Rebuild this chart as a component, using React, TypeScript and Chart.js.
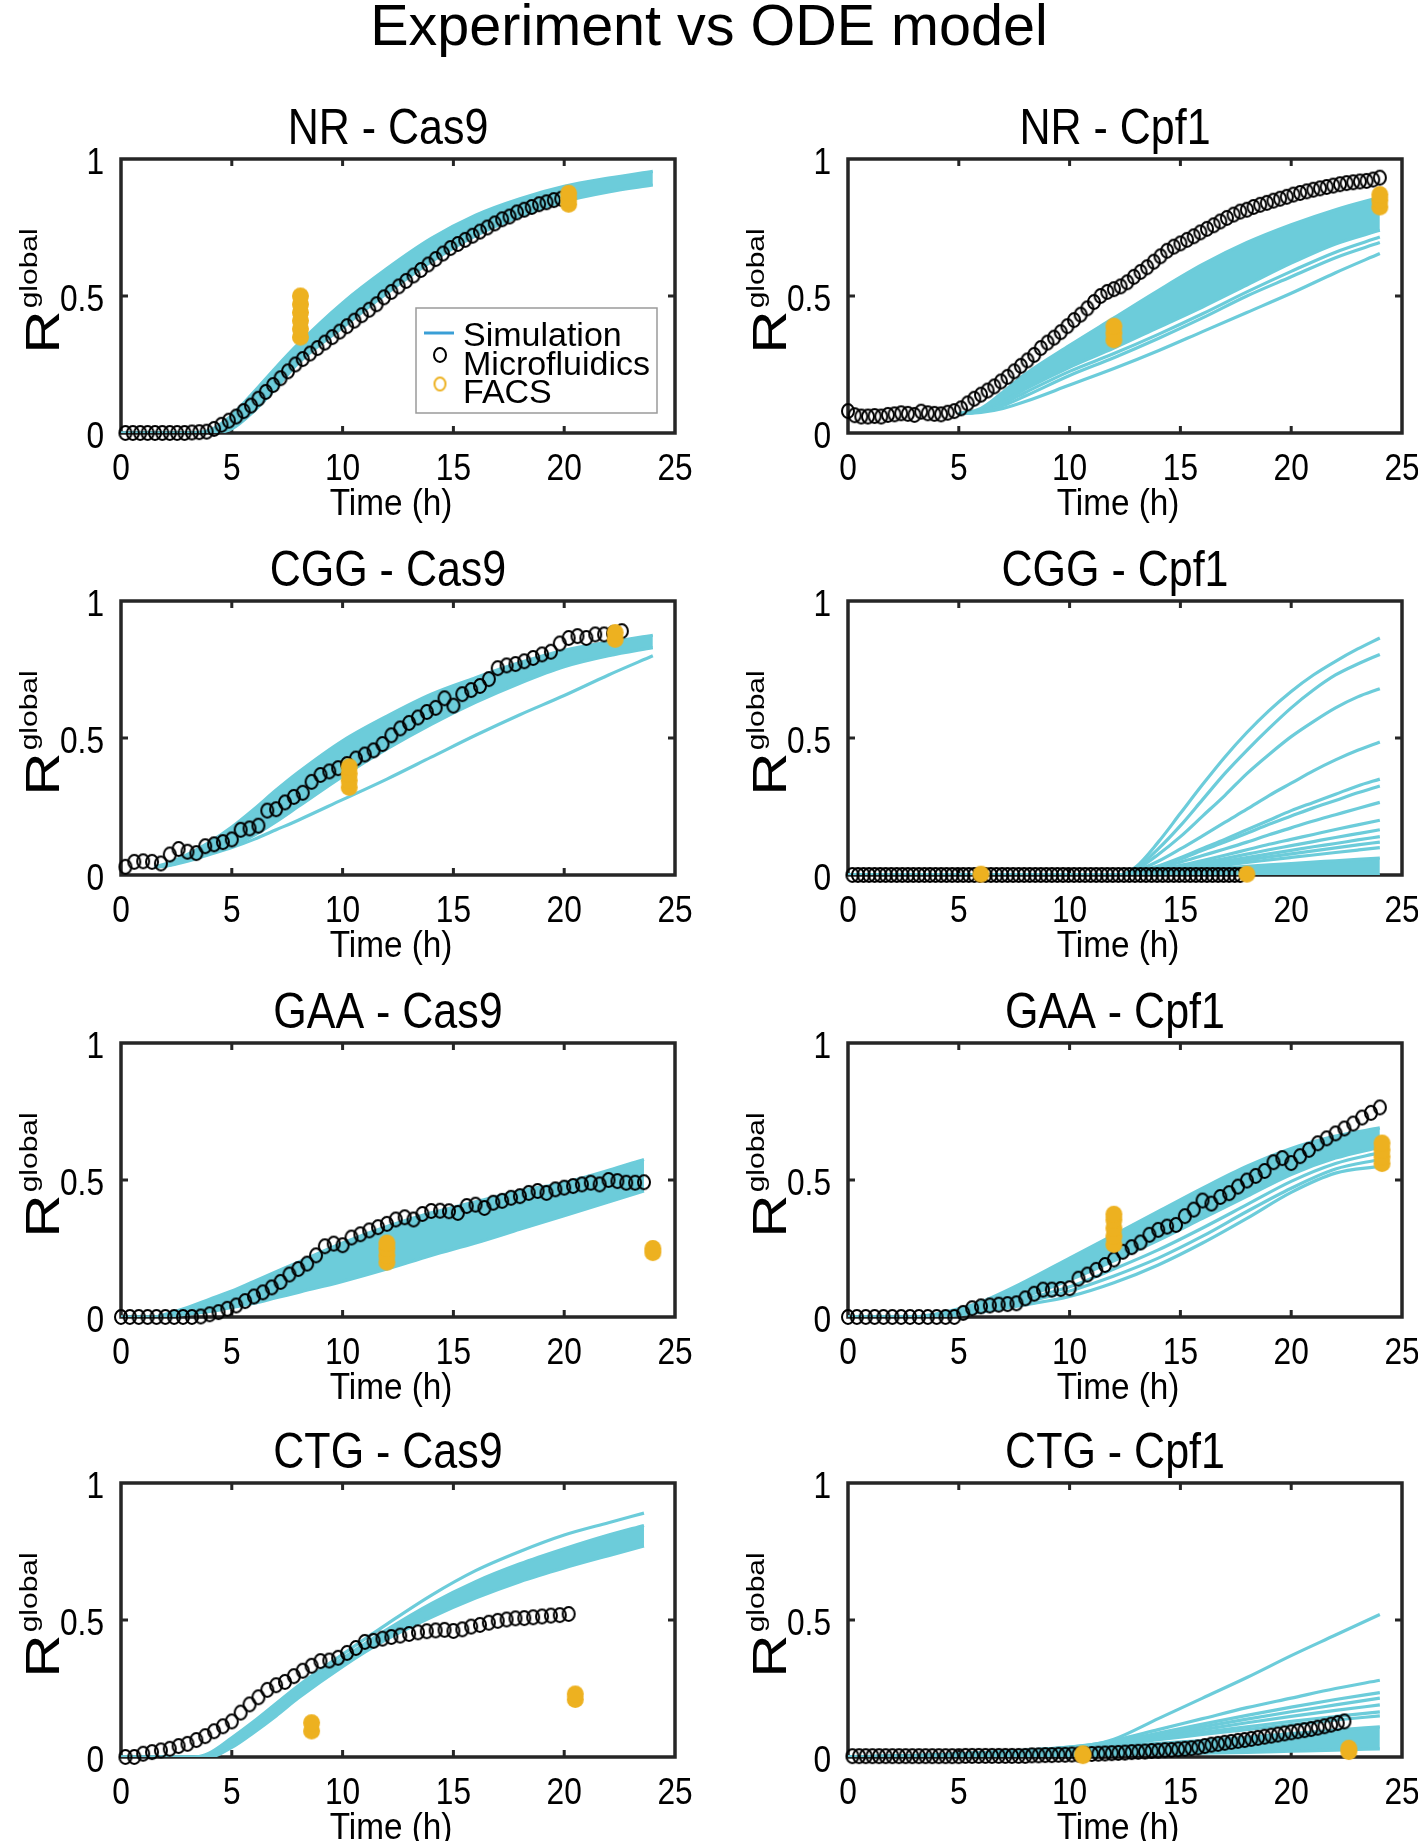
import React, { useEffect, useRef } from 'react';
import { Chart, registerables } from 'chart.js';

Chart.register(...registerables);

// ---------------- text ----------------
const MAIN_TITLE = 'Experiment vs ODE model';
const PANEL_TITLES = ['NR - Cas9', 'NR - Cpf1', 'CGG - Cas9', 'CGG - Cpf1', 'GAA - Cas9', 'GAA - Cpf1', 'CTG - Cas9', 'CTG - Cpf1'];
const X_TICKS = [0, 5, 10, 15, 20, 25];
const X_TICK_LABELS = ['0', '5', '10', '15', '20', '25'];
const Y_TICKS = [0, 0.5, 1];
const Y_TICK_LABELS = ['0', '0.5', '1'];
const X_LABEL = 'Time (h)';
const Y_LABEL_MAIN = 'R';
const Y_LABEL_SUP = 'global';
const LEGEND_LABELS = ['Simulation', 'Microfluidics', 'FACS'];

// ---------------- NR - Cas9 ----------------
const NR_CAS9_MICRO_T0 = 0.2;
const NR_CAS9_MICRO_DT = 1 / 3;
const NR_CAS9_MICRO = [0, 0, 0, 0, 0, 0, 0, 0, 0, 0.002, 0.003, 0.005, 0.015, 0.03, 0.045, 0.06, 0.08, 0.1, 0.125, 0.15,
  0.175, 0.2, 0.225, 0.25, 0.27, 0.29, 0.31, 0.33, 0.35, 0.37, 0.39, 0.41, 0.43, 0.45, 0.47, 0.495, 0.515, 0.535, 0.555, 0.575,
  0.595, 0.615, 0.635, 0.655, 0.675, 0.69, 0.705, 0.72, 0.735, 0.75, 0.765, 0.78, 0.79, 0.805, 0.815, 0.825, 0.835, 0.842, 0.85, 0.855];
const NR_CAS9_FACS_T = [8.1, 20.2];
const NR_CAS9_FACS = [[0.35, 0.38, 0.41, 0.44, 0.47, 0.5], [0.835, 0.855, 0.875]];
const NR_CAS9_SIM_T = [0, 3, 4, 5, 6, 7, 8, 10, 12, 14, 16, 18, 20, 22, 24];
const NR_CAS9_SIM_LOW = [0, 0, 0, 0.015, 0.08, 0.165, 0.255, 0.385, 0.51, 0.625, 0.72, 0.79, 0.845, 0.88, 0.905];
const NR_CAS9_SIM_HIGH = [0, 0, 0.01, 0.065, 0.15, 0.24, 0.325, 0.475, 0.6, 0.71, 0.795, 0.855, 0.9, 0.93, 0.955];
const NR_CAS9_SIM_LINES: number[][] = [];

// ---------------- NR - Cpf1 ----------------
const NR_CPF1_MICRO_T0 = 0;
const NR_CPF1_MICRO_DT = 0.3;
const NR_CPF1_MICRO = [0.08, 0.065, 0.06, 0.06, 0.062, 0.06, 0.066, 0.068, 0.072, 0.07, 0.066, 0.078, 0.072, 0.07, 0.068, 0.074,
  0.08, 0.09, 0.108, 0.125, 0.14, 0.155, 0.17, 0.188, 0.205, 0.225, 0.245, 0.265, 0.285, 0.31, 0.33, 0.348, 0.368, 0.39, 0.412,
  0.432, 0.455, 0.478, 0.5, 0.515, 0.525, 0.535, 0.55, 0.57, 0.588, 0.605, 0.625, 0.645, 0.665, 0.68, 0.692, 0.705, 0.718, 0.732,
  0.745, 0.758, 0.772, 0.785, 0.797, 0.808, 0.815, 0.825, 0.833, 0.84, 0.848, 0.855, 0.862, 0.87, 0.876, 0.882, 0.888, 0.893,
  0.898, 0.903, 0.908, 0.912, 0.915, 0.918, 0.92, 0.925, 0.932];
const NR_CPF1_FACS_T = [12.0, 24.0];
const NR_CPF1_FACS = [[0.34, 0.365, 0.39], [0.825, 0.85, 0.87]];
const NR_CPF1_SIM_T = [5, 6, 7, 8, 10, 12, 14, 16, 18, 20, 22, 24];
const NR_CPF1_SIM_LOW = [0.07, 0.08, 0.115, 0.16, 0.24, 0.31, 0.385, 0.46, 0.54, 0.62, 0.69, 0.74];
const NR_CPF1_SIM_HIGH = [0.07, 0.09, 0.15, 0.215, 0.32, 0.42, 0.52, 0.615, 0.695, 0.76, 0.815, 0.86];
const NR_CPF1_SIM_LINES = [
  [0.07, 0.075, 0.09, 0.115, 0.175, 0.235, 0.3, 0.37, 0.44, 0.51, 0.585, 0.655],
  [0.07, 0.078, 0.1, 0.135, 0.21, 0.275, 0.345, 0.42, 0.5, 0.57, 0.64, 0.695],
  [0.07, 0.079, 0.108, 0.148, 0.225, 0.29, 0.36, 0.435, 0.515, 0.59, 0.66, 0.715],
];

// ---------------- CGG - Cas9 ----------------
const CGG_CAS9_MICRO_T0 = 0.2;
const CGG_CAS9_MICRO_DT = 0.4;
const CGG_CAS9_MICRO = [0.03, 0.048, 0.05, 0.048, 0.042, 0.075, 0.095, 0.085, 0.08, 0.105, 0.112, 0.12, 0.13, 0.165, 0.17,
  0.18, 0.235, 0.24, 0.265, 0.285, 0.3, 0.34, 0.365, 0.378, 0.39, 0.405, 0.425, 0.44, 0.455, 0.478, 0.51, 0.535, 0.555, 0.575,
  0.595, 0.61, 0.645, 0.618, 0.66, 0.675, 0.69, 0.715, 0.755, 0.765, 0.77, 0.78, 0.792, 0.805, 0.815, 0.845, 0.865, 0.872,
  0.865, 0.878, 0.878, 0.882, 0.89];
const CGG_CAS9_FACS_T = [10.3, 22.3];
const CGG_CAS9_FACS = [[0.32, 0.345, 0.37, 0.395], [0.86, 0.885]];
const CGG_CAS9_SIM_T = [1.5, 2, 3, 4, 5, 6, 7, 8, 10, 12, 14, 16, 18, 20, 22, 24];
const CGG_CAS9_SIM_LOW = [0.03, 0.033, 0.055, 0.08, 0.105, 0.145, 0.195, 0.25, 0.36, 0.46, 0.55, 0.63, 0.7, 0.76, 0.8, 0.83];
const CGG_CAS9_SIM_HIGH = [0.03, 0.04, 0.075, 0.12, 0.175, 0.24, 0.31, 0.375, 0.49, 0.58, 0.66, 0.72, 0.775, 0.82, 0.85, 0.875];
const CGG_CAS9_SIM_LINES = [
  [0.03, 0.032, 0.05, 0.075, 0.1, 0.13, 0.165, 0.2, 0.275, 0.35, 0.43, 0.51, 0.585, 0.655, 0.73, 0.8],
];

// ---------------- CGG - Cpf1 ----------------
const CGG_CPF1_MICRO_T0 = 0.2;
const CGG_CPF1_MICRO_DT = 0.25;
const CGG_CPF1_MICRO = [0, 0, 0, 0, 0, 0, 0, 0, 0, 0, 0, 0, 0, 0, 0, 0, 0, 0, 0, 0, 0, 0, 0, 0, 0, 0, 0, 0, 0, 0, 0, 0, 0, 0, 0,
  0, 0, 0, 0, 0, 0, 0, 0, 0, 0, 0, 0, 0, 0, 0, 0, 0, 0, 0, 0, 0, 0, 0, 0, 0, 0, 0, 0, 0, 0, 0, 0, 0, 0, 0, 0];
const CGG_CPF1_FACS_T = [6.0, 18.0];
const CGG_CPF1_FACS = [[0.003], [0.003]];
const CGG_CPF1_SIM_T = [0, 12.3, 13, 14, 15, 16, 17, 18, 19, 20, 21, 22, 23, 24];
const CGG_CPF1_SIM_LOW = [0, 0, 0, 0, 0, 0, 0, 0, 0, 0, 0, 0, 0, 0];
const CGG_CPF1_SIM_HIGH = [0, 0, 0.003, 0.008, 0.014, 0.02, 0.026, 0.032, 0.037, 0.042, 0.047, 0.052, 0.057, 0.062];
const CGG_CPF1_SIM_LINES = [
  [0, 0, 0.03, 0.12, 0.225, 0.33, 0.43, 0.52, 0.6, 0.67, 0.73, 0.78, 0.825, 0.865],
  [0, 0, 0.024, 0.095, 0.18, 0.275, 0.37, 0.455, 0.535, 0.61, 0.675, 0.73, 0.77, 0.805],
  [0, 0, 0.02, 0.075, 0.14, 0.215, 0.29, 0.37, 0.44, 0.505, 0.56, 0.61, 0.65, 0.68],
  [0, 0, 0.015, 0.05, 0.095, 0.143, 0.192, 0.24, 0.29, 0.335, 0.38, 0.42, 0.455, 0.485],
  [0, 0, 0.01, 0.033, 0.063, 0.097, 0.13, 0.165, 0.2, 0.235, 0.265, 0.295, 0.325, 0.35],
  [0, 0, 0.01, 0.03, 0.058, 0.09, 0.12, 0.152, 0.185, 0.215, 0.245, 0.272, 0.3, 0.325],
  [0, 0, 0.008, 0.025, 0.047, 0.071, 0.095, 0.12, 0.147, 0.172, 0.197, 0.22, 0.243, 0.265],
  [0, 0, 0.006, 0.019, 0.035, 0.053, 0.072, 0.092, 0.112, 0.13, 0.148, 0.166, 0.183, 0.2],
  [0, 0, 0.005, 0.016, 0.03, 0.045, 0.06, 0.076, 0.092, 0.107, 0.122, 0.137, 0.151, 0.165],
  [0, 0, 0.004, 0.013, 0.025, 0.038, 0.05, 0.064, 0.077, 0.09, 0.103, 0.115, 0.128, 0.14],
  [0, 0, 0.004, 0.012, 0.022, 0.033, 0.043, 0.055, 0.066, 0.077, 0.088, 0.099, 0.11, 0.12],
  [0, 0, 0.003, 0.011, 0.019, 0.028, 0.036, 0.046, 0.055, 0.064, 0.073, 0.082, 0.091, 0.1],
];

// ---------------- GAA - Cas9 ----------------
const GAA_CAS9_MICRO_T0 = 0;
const GAA_CAS9_MICRO_DT = 0.4;
const GAA_CAS9_MICRO = [0, 0, 0, 0, 0, 0, 0, 0, 0, 0.002, 0.01, 0.018, 0.03, 0.042, 0.058, 0.075, 0.09, 0.108, 0.128, 0.155,
  0.175, 0.195, 0.225, 0.258, 0.268, 0.262, 0.29, 0.302, 0.316, 0.328, 0.34, 0.356, 0.364, 0.356, 0.376, 0.387, 0.388, 0.386,
  0.38, 0.405, 0.41, 0.398, 0.417, 0.424, 0.435, 0.441, 0.453, 0.46, 0.453, 0.466, 0.472, 0.478, 0.484, 0.49, 0.484, 0.5, 0.496,
  0.49, 0.49, 0.492];
const GAA_CAS9_FACS_T = [12.0, 24.0];
const GAA_CAS9_FACS = [[0.2, 0.225, 0.25, 0.27], [0.235, 0.25]];
const GAA_CAS9_SIM_T = [0, 1.5, 2, 3, 4, 5, 6, 7, 8, 10, 12, 14, 16, 18, 20, 22, 23.6];
const GAA_CAS9_SIM_LOW = [0, 0, 0.003, 0.01, 0.02, 0.035, 0.05, 0.07, 0.09, 0.13, 0.175, 0.225, 0.27, 0.32, 0.37, 0.42, 0.46];
const GAA_CAS9_SIM_HIGH = [0, 0, 0.01, 0.035, 0.065, 0.095, 0.13, 0.165, 0.2, 0.27, 0.33, 0.38, 0.42, 0.46, 0.49, 0.535, 0.575];
const GAA_CAS9_SIM_LINES: number[][] = [];

// ---------------- GAA - Cpf1 ----------------
const GAA_CPF1_MICRO_T0 = 0;
const GAA_CPF1_MICRO_DT = 0.4;
const GAA_CPF1_MICRO = [0, 0, 0, 0, 0, 0, 0, 0, 0, 0, 0, 0, 0, 0.015, 0.032, 0.039, 0.042, 0.045, 0.047, 0.05, 0.068, 0.085,
  0.1, 0.1, 0.102, 0.105, 0.14, 0.155, 0.172, 0.19, 0.21, 0.238, 0.255, 0.272, 0.3, 0.318, 0.33, 0.336, 0.368, 0.392, 0.425,
  0.414, 0.438, 0.452, 0.476, 0.498, 0.515, 0.533, 0.565, 0.58, 0.562, 0.587, 0.61, 0.634, 0.652, 0.67, 0.688, 0.706, 0.728,
  0.745, 0.765];
const GAA_CPF1_FACS_T = [12.0, 24.1];
const GAA_CPF1_FACS = [[0.265, 0.295, 0.325, 0.355, 0.375], [0.56, 0.585, 0.61, 0.635]];
const GAA_CPF1_SIM_T = [0, 3, 4, 5, 6, 8, 10, 12, 14, 16, 18, 20, 22, 24];
const GAA_CPF1_SIM_LOW = [0, 0, 0.005, 0.015, 0.03, 0.075, 0.135, 0.205, 0.28, 0.36, 0.44, 0.52, 0.58, 0.62];
const GAA_CPF1_SIM_HIGH = [0, 0, 0.012, 0.03, 0.055, 0.13, 0.215, 0.3, 0.385, 0.47, 0.55, 0.615, 0.66, 0.69];
const GAA_CPF1_SIM_LINES = [
  [0, 0, 0.002, 0.008, 0.018, 0.045, 0.075, 0.125, 0.19, 0.27, 0.36, 0.455, 0.525, 0.55],
  [0, 0, 0.003, 0.01, 0.022, 0.055, 0.095, 0.15, 0.215, 0.295, 0.385, 0.47, 0.54, 0.575],
  [0, 0, 0.004, 0.012, 0.026, 0.065, 0.11, 0.175, 0.245, 0.325, 0.41, 0.495, 0.56, 0.6],
];

// ---------------- CTG - Cas9 ----------------
const CTG_CAS9_MICRO_T0 = 0.2;
const CTG_CAS9_MICRO_DT = 0.4;
const CTG_CAS9_MICRO = [0, 0, 0.012, 0.018, 0.024, 0.03, 0.04, 0.048, 0.062, 0.076, 0.094, 0.112, 0.13, 0.162, 0.192, 0.218,
  0.245, 0.262, 0.274, 0.295, 0.315, 0.333, 0.35, 0.352, 0.362, 0.38, 0.398, 0.42, 0.424, 0.432, 0.438, 0.443, 0.449, 0.455,
  0.459, 0.462, 0.464, 0.46, 0.466, 0.476, 0.482, 0.49, 0.497, 0.502, 0.506, 0.507, 0.51, 0.513, 0.516, 0.518, 0.522];
const CTG_CAS9_FACS_T = [8.6, 20.5];
const CTG_CAS9_FACS = [[0.095, 0.125], [0.21, 0.23]];
const CTG_CAS9_SIM_T = [0, 3.3, 4, 5, 6, 7, 8, 10, 12, 14, 16, 18, 20, 22, 23.6];
const CTG_CAS9_SIM_LOW = [0, 0, 0, 0.035, 0.09, 0.15, 0.215, 0.33, 0.43, 0.51, 0.58, 0.64, 0.69, 0.735, 0.77];
const CTG_CAS9_SIM_HIGH = [0, 0, 0.01, 0.06, 0.12, 0.185, 0.25, 0.36, 0.465, 0.56, 0.64, 0.705, 0.76, 0.81, 0.845];
const CTG_CAS9_SIM_LINES = [
  [0, 0, 0.015, 0.07, 0.13, 0.195, 0.26, 0.375, 0.485, 0.59, 0.68, 0.75, 0.81, 0.855, 0.89],
];

// ---------------- CTG - Cpf1 ----------------
const CTG_CPF1_MICRO_T0 = 0.2;
const CTG_CPF1_MICRO_DT = 0.3;
const CTG_CPF1_MICRO = [0.003, 0.003, 0.003, 0.003, 0.003, 0.003, 0.003, 0.003, 0.003, 0.003, 0.003, 0.003, 0.003, 0.003,
  0.003, 0.003, 0.003, 0.004, 0.004, 0.004, 0.004, 0.004, 0.004, 0.004, 0.004, 0.004, 0.004, 0.006, 0.006, 0.007, 0.007,
  0.008, 0.008, 0.009, 0.009, 0.01, 0.011, 0.012, 0.013, 0.014, 0.015, 0.016, 0.018, 0.019, 0.02, 0.022, 0.023, 0.025, 0.026,
  0.028, 0.03, 0.032, 0.035, 0.04, 0.045, 0.048, 0.052, 0.055, 0.059, 0.062, 0.066, 0.07, 0.074, 0.078, 0.082, 0.086, 0.09,
  0.094, 0.098, 0.102, 0.107, 0.112, 0.118, 0.124, 0.13];
const CTG_CPF1_FACS_T = [10.6, 22.6];
const CTG_CPF1_FACS = [[0.005, 0.012], [0.02, 0.032]];
const CTG_CPF1_SIM_T = [0, 4, 7, 9, 11, 12, 14, 16, 18, 20, 22, 24];
const CTG_CPF1_SIM_LOW = [0, 0, 0.002, 0.004, 0.006, 0.008, 0.011, 0.014, 0.017, 0.021, 0.025, 0.03];
const CTG_CPF1_SIM_HIGH = [0, 0.006, 0.016, 0.025, 0.035, 0.04, 0.05, 0.06, 0.072, 0.085, 0.098, 0.11];
const CTG_CPF1_SIM_LINES = [
  [0, 0.008, 0.02, 0.03, 0.045, 0.065, 0.14, 0.215, 0.29, 0.37, 0.445, 0.52],
  [0, 0.008, 0.02, 0.03, 0.045, 0.06, 0.1, 0.14, 0.18, 0.215, 0.25, 0.28],
  [0, 0.007, 0.018, 0.028, 0.042, 0.055, 0.087, 0.12, 0.152, 0.182, 0.21, 0.235],
  [0, 0.007, 0.018, 0.028, 0.04, 0.052, 0.08, 0.11, 0.138, 0.165, 0.19, 0.215],
  [0, 0.006, 0.017, 0.027, 0.04, 0.05, 0.075, 0.1, 0.125, 0.148, 0.17, 0.19],
  [0, 0.006, 0.016, 0.026, 0.038, 0.048, 0.068, 0.09, 0.11, 0.13, 0.148, 0.165],
  [0, 0.006, 0.016, 0.025, 0.036, 0.045, 0.063, 0.082, 0.1, 0.118, 0.135, 0.15],
];

// ---------------- panel table ----------------
type PanelDef = {
  title: string;
  microT0: number; microDt: number; micro: number[];
  facsT: number[]; facs: number[][];
  simT: number[]; simLow: number[]; simHigh: number[]; simLines: number[][];
};

const PANELS: PanelDef[] = [
  { title: PANEL_TITLES[0], microT0: NR_CAS9_MICRO_T0, microDt: NR_CAS9_MICRO_DT, micro: NR_CAS9_MICRO, facsT: NR_CAS9_FACS_T, facs: NR_CAS9_FACS, simT: NR_CAS9_SIM_T, simLow: NR_CAS9_SIM_LOW, simHigh: NR_CAS9_SIM_HIGH, simLines: NR_CAS9_SIM_LINES },
  { title: PANEL_TITLES[1], microT0: NR_CPF1_MICRO_T0, microDt: NR_CPF1_MICRO_DT, micro: NR_CPF1_MICRO, facsT: NR_CPF1_FACS_T, facs: NR_CPF1_FACS, simT: NR_CPF1_SIM_T, simLow: NR_CPF1_SIM_LOW, simHigh: NR_CPF1_SIM_HIGH, simLines: NR_CPF1_SIM_LINES },
  { title: PANEL_TITLES[2], microT0: CGG_CAS9_MICRO_T0, microDt: CGG_CAS9_MICRO_DT, micro: CGG_CAS9_MICRO, facsT: CGG_CAS9_FACS_T, facs: CGG_CAS9_FACS, simT: CGG_CAS9_SIM_T, simLow: CGG_CAS9_SIM_LOW, simHigh: CGG_CAS9_SIM_HIGH, simLines: CGG_CAS9_SIM_LINES },
  { title: PANEL_TITLES[3], microT0: CGG_CPF1_MICRO_T0, microDt: CGG_CPF1_MICRO_DT, micro: CGG_CPF1_MICRO, facsT: CGG_CPF1_FACS_T, facs: CGG_CPF1_FACS, simT: CGG_CPF1_SIM_T, simLow: CGG_CPF1_SIM_LOW, simHigh: CGG_CPF1_SIM_HIGH, simLines: CGG_CPF1_SIM_LINES },
  { title: PANEL_TITLES[4], microT0: GAA_CAS9_MICRO_T0, microDt: GAA_CAS9_MICRO_DT, micro: GAA_CAS9_MICRO, facsT: GAA_CAS9_FACS_T, facs: GAA_CAS9_FACS, simT: GAA_CAS9_SIM_T, simLow: GAA_CAS9_SIM_LOW, simHigh: GAA_CAS9_SIM_HIGH, simLines: GAA_CAS9_SIM_LINES },
  { title: PANEL_TITLES[5], microT0: GAA_CPF1_MICRO_T0, microDt: GAA_CPF1_MICRO_DT, micro: GAA_CPF1_MICRO, facsT: GAA_CPF1_FACS_T, facs: GAA_CPF1_FACS, simT: GAA_CPF1_SIM_T, simLow: GAA_CPF1_SIM_LOW, simHigh: GAA_CPF1_SIM_HIGH, simLines: GAA_CPF1_SIM_LINES },
  { title: PANEL_TITLES[6], microT0: CTG_CAS9_MICRO_T0, microDt: CTG_CAS9_MICRO_DT, micro: CTG_CAS9_MICRO, facsT: CTG_CAS9_FACS_T, facs: CTG_CAS9_FACS, simT: CTG_CAS9_SIM_T, simLow: CTG_CAS9_SIM_LOW, simHigh: CTG_CAS9_SIM_HIGH, simLines: CTG_CAS9_SIM_LINES },
  { title: PANEL_TITLES[7], microT0: CTG_CPF1_MICRO_T0, microDt: CTG_CPF1_MICRO_DT, micro: CTG_CPF1_MICRO, facsT: CTG_CPF1_FACS_T, facs: CTG_CPF1_FACS, simT: CTG_CPF1_SIM_T, simLow: CTG_CPF1_SIM_LOW, simHigh: CTG_CPF1_SIM_HIGH, simLines: CTG_CPF1_SIM_LINES },
];

// ---------------- layout & style ----------------
const PAGE_W = 1418;
const PAGE_H = 1841;
const CANVAS_W = 709;
const CANVAS_H = 480;
const CANVAS_ABOVE = 105;
const COL_CANVAS_X = [0, 709];
const COL_PLOT_X = [[121, 675], [848, 1402]];
const ROW_PLOT_TOP = [159, 601, 1043, 1483];
const PLOT_H = 274;

const SIM_COLOR = 'rgb(108,204,218)';
const LEGEND_SIM_COLOR = '#3A9FD6';
const FACS_COLOR = '#EDB120';
const FRAME_COLOR = '#262626';
const SANS = '"Liberation Sans", Arial, Helvetica, sans-serif';
const COND_SX = 0.88;

function makeEllipse(w: number, h: number, fill: string | null, stroke: string | null, lw: number) {
  const c = document.createElement('canvas');
  c.width = Math.ceil(w + lw * 2 + 2);
  c.height = Math.ceil(h + lw * 2 + 2);
  const ctx = c.getContext('2d')!;
  ctx.beginPath();
  ctx.ellipse(c.width / 2, c.height / 2, w / 2, h / 2, 0, 0, Math.PI * 2);
  if (fill) { ctx.fillStyle = fill; ctx.fill(); }
  if (stroke) { ctx.strokeStyle = stroke; ctx.lineWidth = lw; ctx.stroke(); }
  return c;
}

function drawText(ctx: CanvasRenderingContext2D, text: string, x: number, y: number, font: string, align: CanvasTextAlign, sx: number) {
  ctx.save();
  ctx.font = font;
  ctx.fillStyle = '#000';
  ctx.textBaseline = 'alphabetic';
  ctx.textAlign = align;
  ctx.translate(x, y);
  ctx.scale(sx, 1);
  ctx.fillText(text, 0, 0);
  ctx.restore();
}

function makeDecor(title: string, legend: boolean, imgs: any) {
  return {
    id: 'decor',
    beforeDatasetsDraw(chart: any) {
      const { ctx, chartArea: a, scales } = chart;
      const xs = scales.x, ys = scales.y;
      ctx.save();
      ctx.strokeStyle = FRAME_COLOR;
      ctx.lineWidth = 3.5;
      ctx.strokeRect(a.left, a.top, a.right - a.left, a.bottom - a.top);
      ctx.lineWidth = 3;
      ctx.beginPath();
      const TL = 7;
      X_TICKS.forEach((t) => {
        if (t <= xs.min || t >= xs.max) return;
        const px = xs.getPixelForValue(t);
        ctx.moveTo(px, a.bottom); ctx.lineTo(px, a.bottom - TL);
        ctx.moveTo(px, a.top); ctx.lineTo(px, a.top + TL);
      });
      Y_TICKS.forEach((t) => {
        if (t <= ys.min || t >= ys.max) return;
        const py = ys.getPixelForValue(t);
        ctx.moveTo(a.left, py); ctx.lineTo(a.left + TL, py);
        ctx.moveTo(a.right, py); ctx.lineTo(a.right - TL, py);
      });
      ctx.stroke();
      ctx.restore();
    },
    afterDraw(chart: any) {
      const { ctx, chartArea: a, scales } = chart;
      const xs = scales.x, ys = scales.y;
      const cx = (a.left + a.right) / 2;
      const tickFont = `36px ${SANS}`;
      X_TICKS.forEach((t, i) => drawText(ctx, X_TICK_LABELS[i], xs.getPixelForValue(t), a.bottom + 47, tickFont, 'center', COND_SX));
      Y_TICKS.forEach((t, i) => drawText(ctx, Y_TICK_LABELS[i], a.left - 17, ys.getPixelForValue(t) + 15, tickFont, 'right', COND_SX));
      drawText(ctx, X_LABEL, cx - 7, a.bottom + 82, `37px ${SANS}`, 'center', 0.9);
      drawText(ctx, title, cx - 10, a.top - 15, `50px ${SANS}`, 'center', 0.86);

      // rotated y label R^global
      ctx.save();
      const rFont = `60px ${SANS}`;
      const gFont = `30px ${SANS}`;
      ctx.font = rFont;
      const wR = ctx.measureText(Y_LABEL_MAIN).width;
      ctx.font = gFont;
      const wG = ctx.measureText(Y_LABEL_SUP).width;
      const total = wR + 2 + wG;
      const cy = (a.top + a.bottom) / 2 - 5;
      const xR = a.left - 62;
      const xG = a.left - 84;
      ctx.translate(xR, cy + total / 2);
      ctx.rotate(-Math.PI / 2);
      ctx.fillStyle = '#000';
      ctx.textBaseline = 'alphabetic';
      ctx.textAlign = 'left';
      ctx.save();
      ctx.scale(1, 0.8);
      ctx.font = rFont;
      ctx.fillText(Y_LABEL_MAIN, 0, 0);
      ctx.restore();
      ctx.save();
      ctx.translate(wR + 2, -(xR - xG));
      ctx.scale(1, 0.8);
      ctx.font = gFont;
      ctx.fillText(Y_LABEL_SUP, 0, 0);
      ctx.restore();
      ctx.restore();

      if (legend) {
        const lx = a.left + 295, ly = a.top + 149, lw = 241, lh = 105;
        ctx.save();
        ctx.fillStyle = '#fff';
        ctx.fillRect(lx, ly, lw, lh);
        ctx.strokeStyle = '#9A9A9A';
        ctx.lineWidth = 1.5;
        ctx.strokeRect(lx, ly, lw, lh);
        ctx.strokeStyle = LEGEND_SIM_COLOR;
        ctx.lineWidth = 3;
        ctx.beginPath();
        ctx.moveTo(lx + 8, ly + 25);
        ctx.lineTo(lx + 38, ly + 25);
        ctx.stroke();
        const c1 = imgs.circle, c2 = imgs.facsOpen;
        ctx.drawImage(c1, lx + 24 - c1.width / 2, ly + 47 - c1.height / 2);
        ctx.drawImage(c2, lx + 24 - c2.width / 2, ly + 76 - c2.height / 2);
        ctx.restore();
        const lf = `34px ${SANS}`;
        drawText(ctx, LEGEND_LABELS[0], lx + 47, ly + 38, lf, 'left', 1.0);
        drawText(ctx, LEGEND_LABELS[1], lx + 47, ly + 67, lf, 'left', 1.0);
        drawText(ctx, LEGEND_LABELS[2], lx + 47, ly + 95, lf, 'left', 1.0);
      }
    },
  };
}

function PanelChart({ panel, col, row, legend }: { panel: PanelDef; col: number; row: number; legend: boolean }) {
  const ref = useRef<HTMLCanvasElement>(null);
  const canvasX = COL_CANVAS_X[col];
  const canvasY = ROW_PLOT_TOP[row] - CANVAS_ABOVE;
  useEffect(() => {
    const canvas = ref.current;
    if (!canvas) return;
    const imgs = {
      circle: makeEllipse(12, 14, null, '#000', 2),
      facs: makeEllipse(17, 17, FACS_COLOR, null, 0),
      facsOpen: makeEllipse(11, 13, null, FACS_COLOR, 2),
    };
    const simLine = (vals: number[], extra: any) => ({
      data: vals.map((v, i) => ({ x: panel.simT[i], y: v })),
      borderColor: SIM_COLOR,
      backgroundColor: SIM_COLOR,
      borderWidth: 3.2,
      pointRadius: 0,
      cubicInterpolationMode: 'monotone',
      fill: false,
      ...extra,
    });
    const facsPts: { x: number; y: number }[] = [];
    panel.facsT.forEach((t, k) => panel.facs[k].forEach((v) => facsPts.push({ x: t, y: v })));
    const datasets: any[] = [
      {
        data: facsPts,
        showLine: false,
        pointStyle: imgs.facs,
        pointRadius: 9,
        order: 0,
        clip: false,
      },
      {
        data: panel.micro.map((v, i) => ({ x: panel.microT0 + i * panel.microDt, y: v })),
        showLine: false,
        pointStyle: imgs.circle,
        pointRadius: 8,
        order: 1,
        clip: false,
      },
      simLine(panel.simLow, { order: 3 }),
      simLine(panel.simHigh, { order: 3, fill: '-1' }),
      ...panel.simLines.map((l) => simLine(l, { order: 2 })),
    ];
    const [pl, pr] = COL_PLOT_X[col];
    const chart = new Chart(canvas, {
      type: 'line',
      data: { datasets },
      options: {
        animation: false,
        responsive: false,
        maintainAspectRatio: false,
        devicePixelRatio: 1,
        events: [],
        layout: {
          padding: {
            left: pl - canvasX,
            right: canvasX + CANVAS_W - pr,
            top: CANVAS_ABOVE,
            bottom: CANVAS_H - CANVAS_ABOVE - PLOT_H,
          },
        },
        scales: {
          x: { type: 'linear', min: 0, max: 25, display: false },
          y: { type: 'linear', min: 0, max: 1, display: false },
        },
        plugins: {
          legend: { display: false },
          tooltip: { enabled: false },
          title: { display: false },
        },
      } as any,
      plugins: [makeDecor(panel.title, legend, imgs)],
    } as any);
    return () => chart.destroy();
  }, [panel, col, row, legend]);
  return (
    <canvas
      ref={ref}
      width={CANVAS_W}
      height={CANVAS_H}
      style={{ position: 'absolute', left: canvasX, top: canvasY, width: CANVAS_W, height: CANVAS_H }}
    />
  );
}

export default function App() {
  return (
    <div style={{ position: 'absolute', left: 0, top: 0, width: PAGE_W, height: PAGE_H, overflow: 'hidden', background: '#fff' }}>
      <div
        style={{
          position: 'absolute',
          left: 0,
          top: -3,
          width: PAGE_W,
          textAlign: 'center',
          fontFamily: SANS,
          fontSize: 57.5,
          lineHeight: '57px',
          color: '#000',
          whiteSpace: 'nowrap',
        }}
      >
        {MAIN_TITLE}
      </div>
      {PANELS.map((p, i) => (
        <PanelChart key={i} panel={p} col={i % 2} row={Math.floor(i / 2)} legend={i === 0} />
      ))}
    </div>
  );
}
